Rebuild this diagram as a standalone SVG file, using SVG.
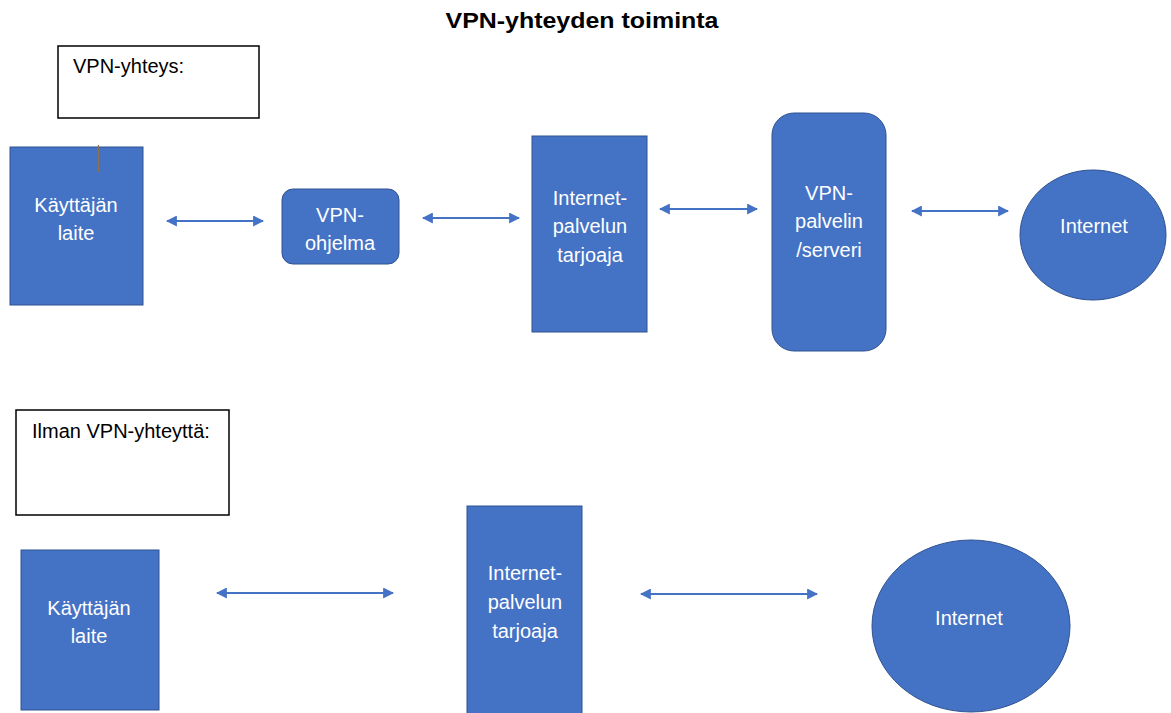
<svg xmlns="http://www.w3.org/2000/svg" width="1171" height="713" viewBox="0 0 1171 713">
<style>
.node{fill:#4472C4;stroke:#2F528F;stroke-width:1}
.lbl{font-family:"Liberation Sans",Arial,sans-serif;font-size:20px;fill:#ffffff;text-anchor:middle}
.cap{font-family:"Liberation Sans",Arial,sans-serif;font-size:20px;fill:#000000}
.box{fill:#ffffff;stroke:#000000;stroke-width:1.5}
.conn{stroke:#4472C4;stroke-width:1.8;fill:none;marker-start:url(#ah);marker-end:url(#ah)}
</style>
<defs>
<marker id="ah" viewBox="0 0 10 10" refX="9" refY="5" markerWidth="11" markerHeight="11" markerUnits="userSpaceOnUse" orient="auto-start-reverse">
<path d="M0,0 L10,5 L0,10 z" fill="#4472C4"/>
</marker>
<clipPath id="clipVpn"><rect x="282" y="189" width="117" height="75" rx="11"/></clipPath>
</defs>
<rect width="1171" height="713" fill="#ffffff"/>
<text x="582" y="28" text-anchor="middle" font-family="'Liberation Sans',Arial,sans-serif" font-size="22" font-weight="bold" textLength="273" lengthAdjust="spacingAndGlyphs">VPN-yhteyden toiminta</text>

<g id="label-vpn">
<rect class="box" x="58" y="46" width="201" height="72"/>
<text class="cap" x="73" y="73">VPN-yhteys:</text>
</g>
<g id="label-novpn">
<rect class="box" x="16" y="410" width="213" height="105"/>
<text class="cap" x="32" y="438">Ilman VPN-yhteyttä:</text>
</g>

<g id="device1">
<rect class="node" x="10" y="147" width="133" height="158"/>
<line x1="98.5" y1="145" x2="98.5" y2="172" stroke="#8B7352" stroke-width="1.2"/>
<text class="lbl" x="76" y="212">Käyttäjän</text>
<text class="lbl" x="76" y="240">laite</text>
</g>
<g id="vpnapp">
<rect class="node" x="282" y="189" width="117" height="75" rx="11"/>
<g clip-path="url(#clipVpn)">
<text class="lbl" x="340" y="222">VPN-</text>
<text class="lbl" x="340" y="250">ohjelma</text>
</g>
</g>
<g id="isp1">
<rect class="node" x="532" y="136" width="115" height="196"/>
<text class="lbl" x="590" y="205">Internet-</text>
<text class="lbl" x="590" y="233">palvelun</text>
<text class="lbl" x="590" y="262">tarjoaja</text>
</g>
<g id="vpnserver">
<rect class="node" x="772" y="113" width="114" height="238" rx="22"/>
<text class="lbl" x="829" y="200">VPN-</text>
<text class="lbl" x="829" y="228">palvelin</text>
<text class="lbl" x="829" y="257">/serveri</text>
</g>
<g id="internet1">
<ellipse class="node" cx="1093" cy="235" rx="73" ry="65"/>
<text class="lbl" x="1094" y="233">Internet</text>
</g>

<g id="device2">
<rect class="node" x="21" y="550" width="138" height="160"/>
<text class="lbl" x="89" y="615">Käyttäjän</text>
<text class="lbl" x="89" y="643">laite</text>
</g>
<g id="isp2">
<rect class="node" x="467" y="506" width="115" height="212"/>
<text class="lbl" x="525" y="580">Internet-</text>
<text class="lbl" x="525" y="609">palvelun</text>
<text class="lbl" x="525" y="638">tarjoaja</text>
</g>
<g id="internet2">
<ellipse class="node" cx="971" cy="626" rx="99" ry="86"/>
<text class="lbl" x="969" y="625">Internet</text>
</g>

<g id="connectors">
<line class="conn" x1="167" y1="221" x2="263" y2="221"/>
<line class="conn" x1="423" y1="218" x2="519" y2="218"/>
<line class="conn" x1="660" y1="209" x2="757" y2="209"/>
<line class="conn" x1="912" y1="211" x2="1008" y2="211"/>
<line class="conn" x1="217" y1="593" x2="393" y2="593"/>
<line class="conn" x1="641" y1="594" x2="817" y2="594"/>
</g>
</svg>
